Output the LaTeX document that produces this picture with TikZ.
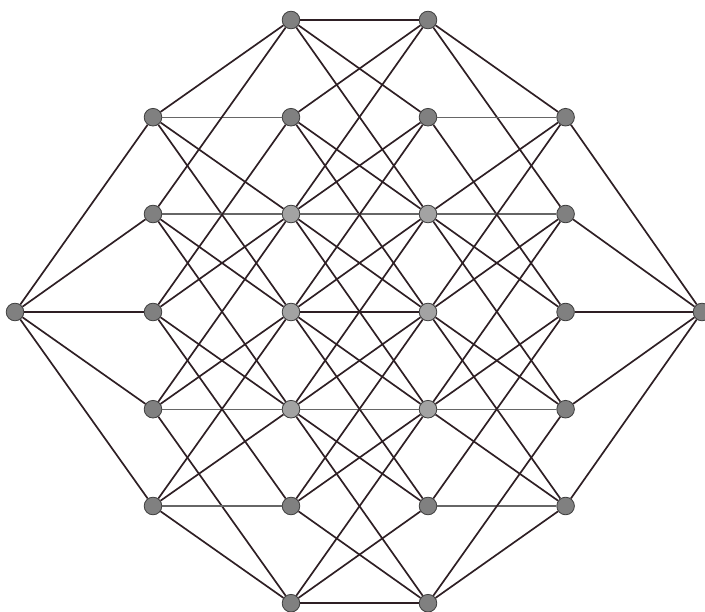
\documentclass[tikz,border=0pt]{standalone}
\usepackage{tikz}
\definecolor{edgecol}{HTML}{2E1F24}
\begin{document}
\begin{tikzpicture}[
    nd/.style={circle, draw=black!75, line width=0.6pt, fill=black!50,
               minimum size=4.4mm, inner sep=0pt},
    ndl/.style={nd, fill=black!36},
    e/.style={draw=edgecol, line width=1.2pt},
    eh/.style={draw=black!60, line width=0.75pt},
    eb/.style={draw=edgecol, line width=1.6pt},
  ]
  \useasboundingbox (0,0) rectangle (17.625,-15.3);
  % outer ends
  \node[nd] (l0) at (0.375, -7.80) {};
  \node[nd] (r0) at (17.55, -7.80) {};
  % column a
  \node[nd] (a1) at (3.825, -2.93) {};
  \node[nd] (a2) at (3.825, -5.35) {};
  \node[nd] (a3) at (3.825, -7.80) {};
  \node[nd] (a4) at (3.825, -10.23) {};
  \node[nd] (a5) at (3.825, -12.65) {};
  % column b
  \node[nd] (b0) at (7.275, -0.50) {};
  \node[nd] (b1) at (7.275, -2.93) {};
  \node[ndl] (b2) at (7.275, -5.35) {};
  \node[ndl] (b3) at (7.275, -7.80) {};
  \node[ndl] (b4) at (7.275, -10.23) {};
  \node[nd] (b5) at (7.275, -12.65) {};
  \node[nd] (b6) at (7.275, -15.08) {};
  % column c
  \node[nd] (c0) at (10.70, -0.50) {};
  \node[nd] (c1) at (10.70, -2.93) {};
  \node[ndl] (c2) at (10.70, -5.35) {};
  \node[ndl] (c3) at (10.70, -7.80) {};
  \node[ndl] (c4) at (10.70, -10.23) {};
  \node[nd] (c5) at (10.70, -12.65) {};
  \node[nd] (c6) at (10.70, -15.08) {};
  % column d
  \node[nd] (d1) at (14.14, -2.93) {};
  \node[nd] (d2) at (14.14, -5.35) {};
  \node[nd] (d3) at (14.14, -7.80) {};
  \node[nd] (d4) at (14.14, -10.23) {};
  \node[nd] (d5) at (14.14, -12.65) {};
  % left end to a
  \draw[e] (l0) -- (a1);
  \draw[e] (l0) -- (a2);
  \draw[eb] (l0) -- (a3);
  \draw[e] (l0) -- (a4);
  \draw[e] (l0) -- (a5);
  % a to b
  \draw[e] (a1) -- (b0);
  \draw[eh] (a1) -- (b1);
  \draw[e] (a1) -- (b2);
  \draw[e] (a1) -- (b3);
  \draw[e] (a2) -- (b0);
  \draw[eh] (a2) -- (b2);
  \draw[e] (a2) -- (b3);
  \draw[e] (a2) -- (b4);
  \draw[e] (a3) -- (b1);
  \draw[e] (a3) -- (b2);
  \draw[e] (a3) -- (b4);
  \draw[e] (a3) -- (b5);
  \draw[e] (a4) -- (b2);
  \draw[e] (a4) -- (b3);
  \draw[eh] (a4) -- (b4);
  \draw[e] (a4) -- (b6);
  \draw[e] (a5) -- (b3);
  \draw[e] (a5) -- (b4);
  \draw[eh] (a5) -- (b5);
  \draw[e] (a5) -- (b6);
  % b to c
  \draw[eb] (b0) -- (c0);
  \draw[e] (b0) -- (c1);
  \draw[e] (b0) -- (c2);
  \draw[e] (b1) -- (c0);
  \draw[e] (b1) -- (c2);
  \draw[e] (b1) -- (c3);
  \draw[e] (b2) -- (c0);
  \draw[e] (b2) -- (c1);
  \draw[eh] (b2) -- (c2);
  \draw[e] (b2) -- (c3);
  \draw[e] (b2) -- (c4);
  \draw[e] (b3) -- (c1);
  \draw[e] (b3) -- (c2);
  \draw[eb] (b3) -- (c3);
  \draw[e] (b3) -- (c4);
  \draw[e] (b3) -- (c5);
  \draw[e] (b4) -- (c2);
  \draw[e] (b4) -- (c3);
  \draw[eh] (b4) -- (c4);
  \draw[e] (b4) -- (c5);
  \draw[e] (b4) -- (c6);
  \draw[e] (b5) -- (c3);
  \draw[e] (b5) -- (c4);
  \draw[e] (b5) -- (c6);
  \draw[e] (b6) -- (c4);
  \draw[e] (b6) -- (c5);
  \draw[eb] (b6) -- (c6);
  % c to d
  \draw[e] (c0) -- (d1);
  \draw[e] (c0) -- (d2);
  \draw[eh] (c1) -- (d1);
  \draw[e] (c1) -- (d3);
  \draw[e] (c2) -- (d1);
  \draw[eh] (c2) -- (d2);
  \draw[e] (c2) -- (d3);
  \draw[e] (c2) -- (d4);
  \draw[e] (c3) -- (d1);
  \draw[e] (c3) -- (d2);
  \draw[e] (c3) -- (d4);
  \draw[e] (c3) -- (d5);
  \draw[e] (c4) -- (d2);
  \draw[e] (c4) -- (d3);
  \draw[eh] (c4) -- (d4);
  \draw[e] (c4) -- (d5);
  \draw[e] (c5) -- (d3);
  \draw[eh] (c5) -- (d5);
  \draw[e] (c6) -- (d4);
  \draw[e] (c6) -- (d5);
  % d to right end
  \draw[e] (d1) -- (r0);
  \draw[e] (d2) -- (r0);
  \draw[eb] (d3) -- (r0);
  \draw[e] (d4) -- (r0);
  \draw[e] (d5) -- (r0);
\end{tikzpicture}
\end{document}
